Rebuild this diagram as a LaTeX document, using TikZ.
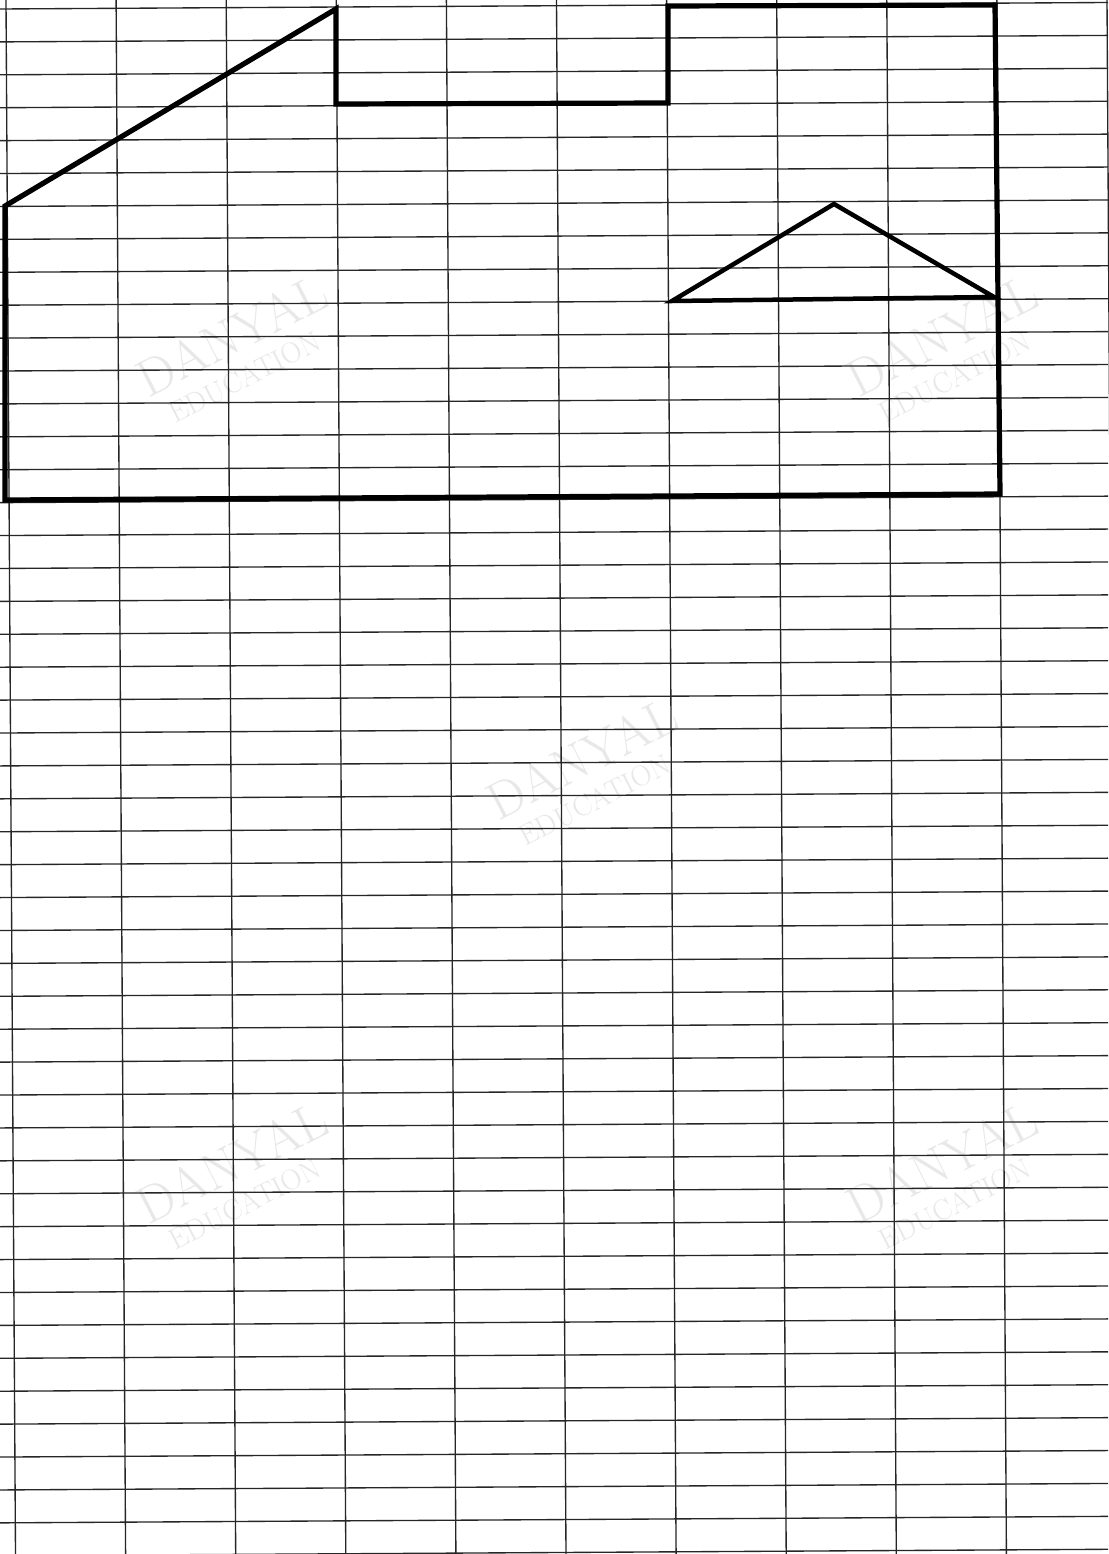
\documentclass[tikz,border=0pt]{standalone}
\begin{document}
\begin{tikzpicture}[x=1pt,y=-1pt,
  gridline/.style={line width=1.35pt,black!85},
  thick outline/.style={line width=5.2pt,line join=miter,black},
  wm/.style={black!9,rotate=27,inner sep=0pt}]
\useasboundingbox (0,0) rectangle (1108,1554);
\fill[white] (0,0) rectangle (1108,1554);
% watermarks
\foreach \cx/\cy/\n in {232/345/w1, 942/345/w2, 582/768/w3, 232/1172/w4, 942/1172/w5}{
  \node[wm,font=\fontsize{52}{56}\selectfont] (\n a) at (\cx,\cy-10) {DANYAL};
  \node[wm,font=\fontsize{29}{32}\selectfont] (\n b) at (\cx+13,\cy+32) {EDUCATION};
}
% horizontal grid lines (slightly skewed scan)
\foreach \k in {0,...,47}{
  \draw[gridline] (0,{9+32.91*\k}) -- (1108,{2.5+32.91*\k});
}
% vertical grid lines
\foreach \i in {0,...,10}{
  \draw[gridline] ({6+110.1*\i},0) -- ({15.5+110.1*\i},1554);
}
% main outline
\coordinate (p1) at (5,206);
\coordinate (p2) at (336,9);
\coordinate (p3) at (336,104);
\coordinate (p4) at (668,103);
\coordinate (p5) at (668,6);
\coordinate (p6) at (995,5);
\coordinate (p7) at (1000,494);
\coordinate (p8) at (5,500);
\draw[thick outline] (p1) -- (p2) -- (p3) -- (p4) -- (p5) -- (p6) -- (p7) -- (p8) -- cycle;
% triangle
\coordinate (t1) at (672,301);
\coordinate (t2) at (834,204);
\coordinate (t3) at (994,297);
\draw[line width=4.5pt,line join=miter] (t1) -- (t2) -- (t3) -- cycle;
\end{tikzpicture}
\end{document}
